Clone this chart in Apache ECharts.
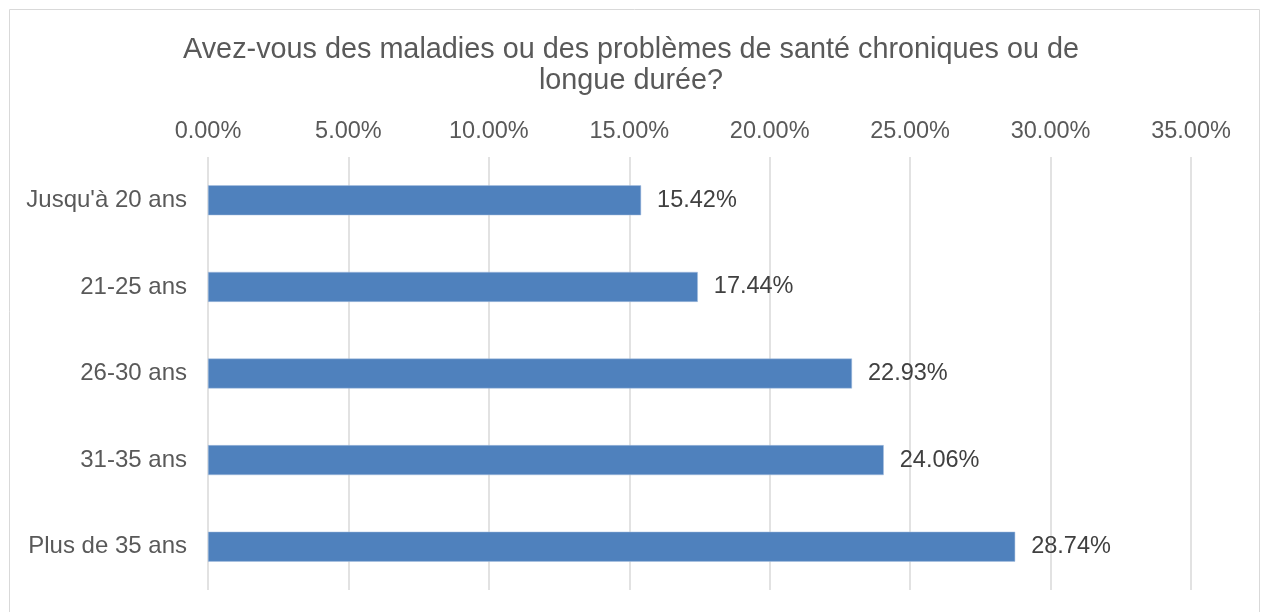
<!DOCTYPE html>
<html>
<head>
<meta charset="utf-8">
<script src="https://cdn.jsdelivr.net/npm/echarts@6/dist/echarts.min.js"></script>
<style>
  html, body { margin: 0; padding: 0; background: #fff; }
  #main { width: 1262px; height: 612px; }
</style>
</head>
<body>
<div id="main"></div>
<script>
// données
var categories = ["Jusqu'à 20 ans", '21-25 ans', '26-30 ans', '31-35 ans', 'Plus de 35 ans'];
var values = [15.42, 17.44, 22.93, 24.06, 28.74];
var titleText = 'Avez-vous des maladies ou des problèmes de santé chroniques ou de\nlongue durée?';

var chart = echarts.init(document.getElementById('main'));

var option = {
  animation: false,
  textStyle: { fontFamily: 'Liberation Sans, Arial, sans-serif' },
  graphic: [
    {
      type: 'rect',
      shape: { x: 9.5, y: 9.5, width: 1250, height: 620 },
      style: { fill: 'none', stroke: '#d9d9d9', lineWidth: 1 },
      silent: true
    }
  ],
  title: {
    text: titleText,
    left: 'center',
    top: 30,
    textStyle: {
      color: '#595959',
      fontSize: 28.8,
      fontWeight: 'normal',
      lineHeight: 31,
      fontFamily: 'Liberation Sans, Arial, sans-serif'
    }
  },
  grid: {
    left: 208,
    right: 71,
    top: 157,
    bottom: 22,
    containLabel: false
  },
  xAxis: {
    type: 'value',
    position: 'top',
    min: 0,
    max: 35,
    interval: 5,
    axisLine: { show: false },
    axisTick: { show: false },
    splitLine: { show: true, lineStyle: { color: '#d9d9d9', width: 1.5 } },
    axisLabel: {
      color: '#595959',
      fontSize: 23.5,
      margin: 13,
      formatter: function (v) { return v.toFixed(2) + '%'; }
    }
  },
  yAxis: {
    type: 'category',
    inverse: true,
    data: categories,
    axisLine: { show: false },
    axisTick: { show: false },
    axisLabel: { color: '#595959', fontSize: 24, margin: 21 }
  },
  series: [
    {
      type: 'bar',
      data: values,
      barWidth: 30,
      itemStyle: { color: '#4f81bd', borderColor: '#a9c1e0', borderWidth: 0.5 },
      label: {
        show: true,
        position: 'right',
        distance: 16,
        color: '#404040',
        fontSize: 23.5,
        formatter: function (p) { return p.value.toFixed(2) + '%'; }
      }
    }
  ]
};

chart.setOption(option);
</script>
</body>
</html>
